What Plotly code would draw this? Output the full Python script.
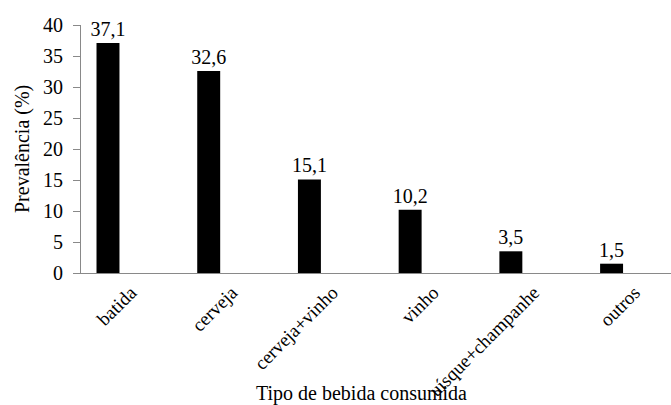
import plotly.graph_objects as go

categories = ["batida", "cerveja", "cerveja+vinho", "vinho", "uísque+champanhe", "outros"]
values = [37.1, 32.6, 15.1, 10.2, 3.5, 1.5]
value_labels = ["37,1", "32,6", "15,1", "10,2", "3,5", "1,5"]
y_ticks = [0, 5, 10, 15, 20, 25, 30, 35, 40]

FONT = "'Liberation Serif', 'Times New Roman', serif"
AX = "#898989"

fig = go.Figure()
fig.add_trace(go.Bar(
    x=categories, y=values, text=value_labels, textposition="outside",
    constraintext="none",
    textfont=dict(family=FONT, size=20, color="black"),
    marker=dict(color="black", line=dict(width=0)),
    width=0.228, cliponaxis=False,
))

fig.update_layout(
    width=671, height=405,
    margin=dict(l=81, r=0, t=25, b=132),
    paper_bgcolor="white", plot_bgcolor="white",
    font=dict(family=FONT, size=20, color="black"),
    showlegend=False,
    xaxis=dict(
        type="category", range=[-0.268, 5.59],
        showline=True, linecolor=AX, linewidth=1,
        ticks="", tickangle=-45, showgrid=False, zeroline=False,
        ticklabelshift=23,
        tickfont=dict(family=FONT, size=19, color="black"),
    ),
    yaxis=dict(
        range=[0, 40], tickvals=y_ticks,
        showline=True, linecolor=AX, linewidth=1,
        ticks="outside", ticklen=7, tickcolor=AX, tickwidth=1,
        showgrid=False, zeroline=False,
        tickfont=dict(family=FONT, size=20, color="black"),
        ticklabelstandoff=6,
    ),
    annotations=[
        dict(text="Prevalência (%)", xref="paper", yref="paper",
             x=-81/590 + 22/590, y=0.5, xanchor="center", yanchor="middle",
             textangle=-90, showarrow=False, font=dict(family=FONT, size=20)),
        dict(text="Tipo de bebida consumida", xref="paper", yref="paper",
             x=(361-81)/590, y=-(393-273)/248, xanchor="center", yanchor="middle",
             showarrow=False, font=dict(family=FONT, size=20)),
    ],
)

fig.write_html("out.html")
